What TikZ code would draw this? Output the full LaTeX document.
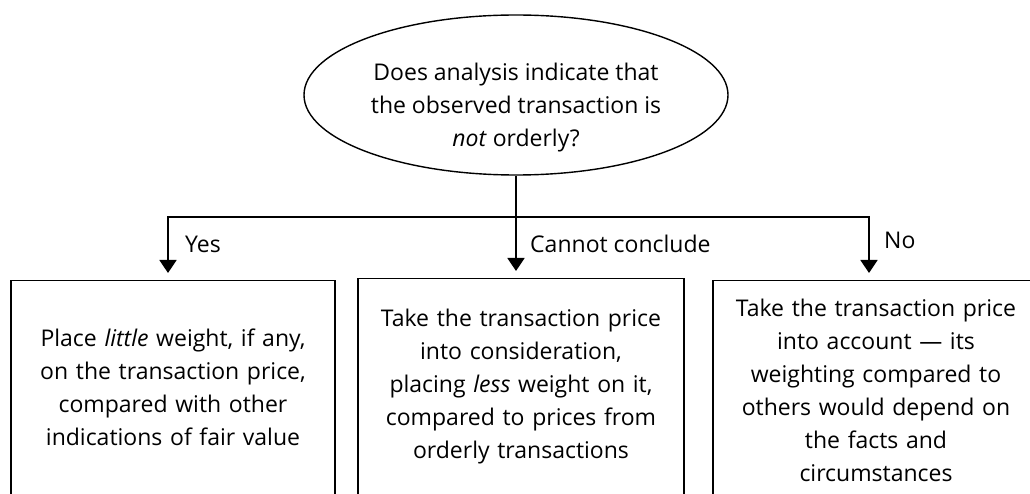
\documentclass[tikz,border=0pt]{standalone}
\usepackage{fontspec}
\setmainfont{Open Sans}
\usetikzlibrary{arrows.meta,shapes.geometric}
\begin{document}
\begin{tikzpicture}[x=1pt,y=-1pt,
  txt/.style={font=\fontsize{23}{33}\selectfont, align=center, inner sep=0pt},
  outbox/.style={draw, line width=1.3pt, minimum width=324pt, text width=310pt, anchor=north, txt},
  conn/.style={line width=1.8pt},
  arr/.style={conn, -{Triangle[length=13pt,width=17pt]}, shorten >=7pt},
  lbl/.style={font=\fontsize{23}{26}\selectfont, inner sep=0pt, anchor=west}]
\useasboundingbox (0,0) rectangle (1030,494);
\clip (0,0) rectangle (1030,494);
\node[ellipse, draw, line width=1.4pt, minimum width=424pt, minimum height=160pt, inner sep=0pt] (q) at (516,95) {};
\node[txt] (qt) at (516,108)
  {Does analysis indicate that\\the observed transaction is\\\textit{not} orderly?};
\node[outbox, minimum height=214pt] (b1) at (173,280)
  {Place \textit{little} weight, if any,\\on the transaction price,\\compared with other\\indications of fair value};
\node[outbox, minimum width=326pt, minimum height=216pt] (b2) at (521,278)
  {Take the transaction price\\into consideration,\\placing \textit{less} weight on it,\\compared to prices from\\orderly transactions};
\node[outbox, minimum width=326pt, minimum height=220pt] (b3) at (876,280)
  {Take the transaction price\\into account --- its\\weighting compared to\\others would depend on\\the facts and\\circumstances};
\coordinate (j) at (516,217);
\draw[conn] (q.south) -- (j);
\draw[arr] (j) -| ([xshift=-5pt]b1.north);
\draw[arr] (j) -- ([xshift=-5pt]b2.north);
\draw[arr] (j) -| ([xshift=-7pt]b3.north);
\node[lbl] (ly) at (185,244) {Yes};
\node[lbl] (lc) at (530,244) {Cannot conclude};
\node[lbl] (ln) at (884,240) {No};
\end{tikzpicture}
\end{document}
